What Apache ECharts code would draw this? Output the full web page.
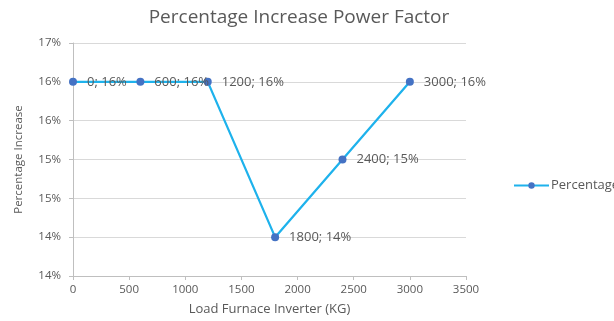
<!DOCTYPE html>
<html>
<head>
<meta charset="utf-8">
<script src="https://cdn.jsdelivr.net/npm/echarts@6/dist/echarts.min.js"></script>
<style>
html,body{margin:0;padding:0;background:#fff;}
#chart{width:614px;height:321px;}
</style>
</head>
<body>
<div id="chart"></div>
<script>
const loads = [0, 600, 1200, 1800, 2400, 3000];
const percentValues = [16.5, 16.5, 16.5, 14.5, 15.5, 16.5];
const pointLabels = ['16%', '16%', '16%', '14%', '15%', '16%'];
const yTickLabels = ['14%', '14%', '15%', '15%', '16%', '16%', '17%'];

const font = '"Open Sans", Lato, sans-serif';
const txt = '#595959';
const chart = echarts.init(document.getElementById('chart'));
chart.setOption({
  animation: false,
  backgroundColor: '#fff',
  title: {
    text: 'Percentage Increase Power Factor',
    left: 294, top: 3, textAlign: 'center',
    textStyle: {fontFamily: font, fontSize: 19, fontWeight: 'normal', color: txt}
  },
  legend: {
    data: ['Percentage'],
    left: 508, top: 174,
    itemWidth: 35, itemHeight: 8, itemGap: 0,
    textStyle: {fontFamily: font, fontSize: 13, color: txt, padding: [0,0,0,-3]}
  },
  grid: {left: 73, right: 148, top: 43, bottom: 45},
  xAxis: {
    type: 'value', min: 0, max: 3500, interval: 500,
    name: 'Load Furnace Inverter (KG)', nameLocation: 'middle', nameGap: 27,
    nameTextStyle: {fontFamily: font, fontSize: 13, color: txt},
    axisLine: {lineStyle: {color: '#bfbfbf'}},
    axisTick: {show: true, length: 4, lineStyle: {color: '#bfbfbf'}},
    axisLabel: {fontFamily: font, fontSize: 11.5, color: txt, margin: 8,
      formatter: (v) => String(v)},
    splitLine: {show: false}
  },
  yAxis: {
    type: 'value', min: 14, max: 17, interval: 0.5,
    name: 'Percentage Increase', nameLocation: 'middle', nameGap: 48,
    nameTextStyle: {fontFamily: font, fontSize: 11.5, color: txt},
    axisLine: {show: true, lineStyle: {color: '#bfbfbf'}},
    axisTick: {show: true, length: 4, lineStyle: {color: '#bfbfbf'}},
    axisLabel: {fontFamily: font, fontSize: 11.5, color: txt, margin: 12,
      formatter: (v) => yTickLabels[Math.round((v - 14) / 0.5)]},
    splitLine: {lineStyle: {color: '#d9d9d9'}}
  },
  series: [{
    name: 'Percentage',
    type: 'line',
    data: loads.map((x, i) => [x, percentValues[i]]),
    symbol: 'circle', symbolSize: 8,
    itemStyle: {color: '#4472c4'},
    lineStyle: {color: '#1eb2ec', width: 2.25},
    label: {
      show: true, position: 'right', distance: 10,
      fontFamily: font, fontSize: 13, color: txt,
      formatter: (p) => loads[p.dataIndex] + '; ' + pointLabels[p.dataIndex]
    }
  }]
});
</script>
</body>
</html>
